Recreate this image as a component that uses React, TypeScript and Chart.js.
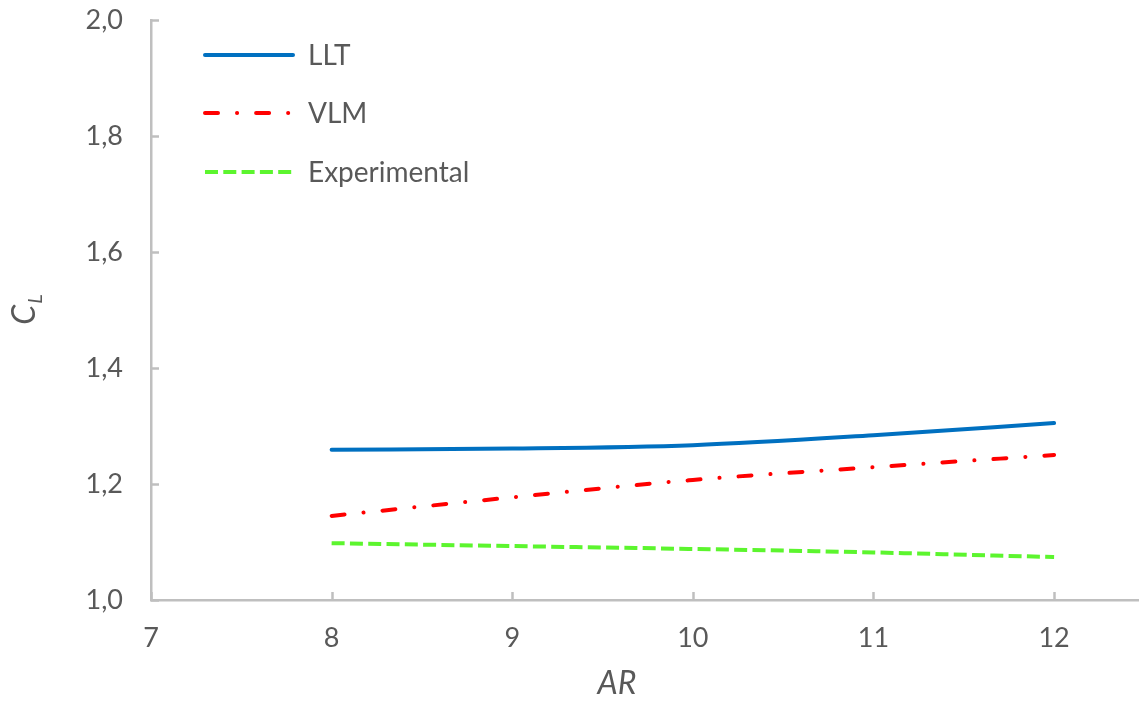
import React, { useEffect, useRef } from "react";
import { Chart, registerables } from "chart.js";

Chart.register(...registerables);

// Aspect ratio values and lift coefficients
const arValues = [8, 9, 10, 11, 12];
const lltValues = [1.259, 1.261, 1.267, 1.284, 1.305];
const vlmValues = [1.145, 1.177, 1.207, 1.229, 1.25];
const expValues = [1.098, 1.093, 1.088, 1.082, 1.074];

const xTickValues = [7, 8, 9, 10, 11, 12];
const yTickValues = [1.0, 1.2, 1.4, 1.6, 1.8, 2.0];

const seriesNames = ["LLT", "VLM", "Experimental"];
const seriesColors = ["#0070C0", "#FF0000", "#5CF52E"];

const FONT = "Lato, 'Open Sans', sans-serif";
const TEXT = "#595959";
const AXIS = "#BFBFBF";

const dashes: number[][] = [[], [13, 19, 0.1, 19], [13, 5.3]];
const caps: CanvasLineCap[] = ["round", "round", "butt"];

const decorPlugin = {
  id: "decor",
  afterDraw(chart: any) {
    const ctx = chart.ctx as CanvasRenderingContext2D;
    const xs = chart.scales.x;
    const ys = chart.scales.y;
    const area = chart.chartArea;

    // inward tick marks
    ctx.save();
    ctx.strokeStyle = AXIS;
    ctx.lineWidth = 2.5;
    ctx.setLineDash([]);
    for (const v of xTickValues) {
      const px = Math.round(xs.getPixelForValue(v)) + 0.5;
      ctx.beginPath();
      ctx.moveTo(px, area.bottom);
      ctx.lineTo(px, area.bottom - 8);
      ctx.stroke();
    }
    for (const v of yTickValues) {
      const py = Math.round(ys.getPixelForValue(v)) + 0.5;
      ctx.beginPath();
      ctx.moveTo(area.left, py);
      ctx.lineTo(area.left + 8, py);
      ctx.stroke();
    }
    ctx.restore();

    // legend inside the plot area
    ctx.save();
    const rows = [55, 113, 172];
    seriesNames.forEach((name, i) => {
      ctx.strokeStyle = seriesColors[i];
      ctx.lineWidth = 4;
      ctx.lineCap = caps[i];
      ctx.setLineDash(dashes[i]);
      ctx.beginPath();
      ctx.moveTo(205, rows[i]);
      ctx.lineTo(293, rows[i]);
      ctx.stroke();
      ctx.setLineDash([]);
      ctx.fillStyle = TEXT;
      ctx.font = `28px ${FONT}`;
      ctx.textAlign = "left";
      ctx.textBaseline = "middle";
      ctx.fillText(name, 308, rows[i] + 1);
    });
    ctx.restore();

    // x axis title
    ctx.save();
    ctx.fillStyle = TEXT;
    ctx.font = `italic 32px ${FONT}`;
    ctx.textAlign = "center";
    ctx.textBaseline = "middle";
    ctx.fillText("AR", 617, 684);
    ctx.restore();

    // y axis title: C with subscript L
    ctx.save();
    ctx.translate(35, 310);
    ctx.rotate(-Math.PI / 2);
    ctx.fillStyle = TEXT;
    ctx.textBaseline = "alphabetic";
    ctx.font = `italic 32px ${FONT}`;
    const cw = ctx.measureText("C").width;
    ctx.font = `italic 20px ${FONT}`;
    const lw = ctx.measureText("L").width;
    const start = -(cw + lw) / 2;
    ctx.font = `italic 32px ${FONT}`;
    ctx.textAlign = "left";
    ctx.fillText("C", start, 0);
    ctx.font = `italic 20px ${FONT}`;
    ctx.fillText("L", start + cw + 1, 7);
    ctx.restore();
  },
};

export default function App() {
  const canvasRef = useRef<HTMLCanvasElement | null>(null);

  useEffect(() => {
    document.body.style.margin = "0";
    const canvas = canvasRef.current;
    if (!canvas) return;

    const makeSeries = (vals: number[]) => arValues.map((x, i) => ({ x, y: vals[i] }));

    const chart = new Chart(canvas, {
      type: "line",
      data: {
        datasets: [
          {
            label: seriesNames[0],
            data: makeSeries(lltValues),
            borderColor: seriesColors[0],
            borderWidth: 4,
            borderCapStyle: "round",
            cubicInterpolationMode: "monotone",
            pointRadius: 0,
          },
          {
            label: seriesNames[1],
            data: makeSeries(vlmValues),
            borderColor: seriesColors[1],
            borderWidth: 4,
            borderCapStyle: "round",
            borderDash: dashes[1],
            cubicInterpolationMode: "monotone",
            pointRadius: 0,
          },
          {
            label: seriesNames[2],
            data: makeSeries(expValues),
            borderColor: seriesColors[2],
            borderWidth: 4,
            borderCapStyle: "butt",
            borderDash: dashes[2],
            cubicInterpolationMode: "monotone",
            pointRadius: 0,
          },
        ],
      },
      options: {
        animation: false,
        responsive: false,
        devicePixelRatio: 1,
        layout: { padding: { top: 20, right: 0, left: 0, bottom: 0 } },
        plugins: {
          legend: { display: false },
          tooltip: { enabled: false },
          title: { display: false },
        },
        scales: {
          x: {
            type: "linear",
            min: 7,
            max: 12.47,
            afterBuildTicks: (scale: any) => {
              scale.ticks = xTickValues.map((v) => ({ value: v }));
            },
            afterFit: (scale: any) => {
              scale.height = 102;
              scale.paddingLeft = 0;
              scale.paddingRight = 0;
            },
            grid: { display: true, drawOnChartArea: false, drawTicks: false },
            border: { display: true, color: AXIS, width: 2.5 },
            ticks: {
              color: TEXT,
              font: { family: FONT, size: 27 },
              padding: 22,
              callback: (v: any) => String(v),
            },
          },
          y: {
            type: "linear",
            min: 1.0,
            max: 2.0,
            afterBuildTicks: (scale: any) => {
              scale.ticks = yTickValues.map((v) => ({ value: v }));
            },
            afterFit: (scale: any) => {
              scale.width = 151;
              scale.paddingTop = 0;
              scale.paddingBottom = 0;
            },
            grid: { display: true, drawOnChartArea: false, drawTicks: false },
            border: { display: true, color: AXIS, width: 2.5 },
            ticks: {
              color: TEXT,
              font: { family: FONT, size: 27 },
              padding: 28,
              callback: (v: any) => Number(v).toFixed(1).replace(".", ","),
            },
          },
        },
      },
      plugins: [decorPlugin],
    });

    return () => chart.destroy();
  }, []);

  return (
    <div style={{ width: 1139, height: 702, background: "#ffffff" }}>
      <canvas ref={canvasRef} width={1139} height={702} />
    </div>
  );
}
